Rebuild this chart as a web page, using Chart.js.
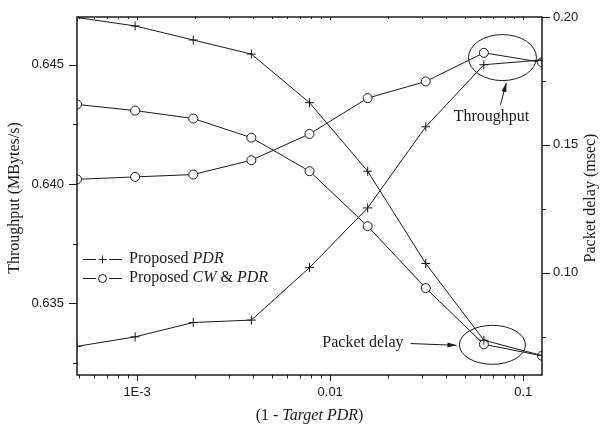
<!DOCTYPE html>
<html>
<head>
<meta charset="utf-8">
<script src="https://cdn.jsdelivr.net/npm/chart.js@4.4.0/dist/chart.umd.min.js"></script>
<style>
  html, body { margin: 0; padding: 0; background: #fff; }
</style>
</head>
<body>
<canvas id="myChart" width="601" height="427"></canvas>
<script>
// x values: 1 - target PDR
const targetLoss = [0.00048828125, 0.0009765625, 0.001953125, 0.00390625, 0.0078125, 0.015625, 0.03125, 0.0625, 0.125];

// throughput (MBytes/s), left axis
const throughputPdr   = [0.6332, 0.6336, 0.6342, 0.6343, 0.6365, 0.6390, 0.6424, 0.6450, 0.6452];
const throughputCwPdr = [0.6402, 0.6403, 0.6404, 0.6410, 0.6421, 0.6436, 0.6443, 0.6455, 0.6451];

// packet delay (msec), right axis
const delayPdr   = [0.1998, 0.1965, 0.1910, 0.1855, 0.1665, 0.1397, 0.1036, 0.0736, 0.0676];
const delayCwPdr = [0.1658, 0.1634, 0.1603, 0.1528, 0.1397, 0.1182, 0.0940, 0.0720, 0.0675];

// ticks
const xMajorTicks  = [0.001, 0.01, 0.1];
const xMajorLabels = ['1E-3', '0.01', '0.1'];
const leftTicks  = [0.6325, 0.635, 0.6375, 0.640, 0.6425, 0.645];
const leftLabels = ['', '0.635', '', '0.640', '', '0.645'];
const rightTicks  = [0.075, 0.10, 0.125, 0.15, 0.175, 0.20];
const rightLabels = ['', '0.10', '', '0.15', '', '0.20'];

const legendNames = [
  [['Proposed ', false], ['PDR', true]],
  [['Proposed ', false], ['CW', true], [' & ', false], ['PDR', true]]
];

// all log ticks from 5E-4 to 0.1
let xTicks = [];
for (let d = 0.0001; d < 0.1; d *= 10) {
  for (let m = 1; m <= 9; m++) {
    let v = +(m * d).toPrecision(3);
    if (v >= 0.0005) xTicks.push(v);
  }
}
xTicks.push(0.1);

const INK = '#1a1a1a';
const SERIF = '"Liberation Serif", "Times New Roman", serif';
const SANS = '"Liberation Sans", Arial, sans-serif';

function findLabel(list, labels, v) {
  for (let i = 0; i < list.length; i++) {
    if (Math.abs(list[i] - v) < 1e-9) return labels[i];
  }
  return '';
}

function makeSet(label, data, axis, style) {
  return {
    label: label,
    data: targetLoss.map((x, i) => ({ x: x, y: data[i] })),
    yAxisID: axis,
    borderColor: INK,
    borderWidth: 1,
    backgroundColor: '#fff',
    pointStyle: style,
    pointRadius: 4.5,
    pointBorderWidth: 1,
    pointBorderColor: INK,
    pointBackgroundColor: '#fff',
    tension: 0
  };
}

// no label overflow padding, so the plot box sits where we want it
function noPad(s) {
  s.paddingTop = 0; s.paddingBottom = 0;
  s.paddingLeft = 0; s.paddingRight = 0;
}

// rich text (mixed italic) helper
function drawRich(ctx, parts, x, y, align) {
  let widths = parts.map(p => {
    ctx.font = (p[1] ? 'italic ' : '') + '16px ' + SERIF;
    return ctx.measureText(p[0]).width;
  });
  let total = widths.reduce((a, b) => a + b, 0);
  let cx = align == 'center' ? x - total / 2 : (align == 'right' ? x - total : x);
  ctx.textAlign = 'left';
  ctx.textBaseline = 'middle';
  parts.forEach((p, i) => {
    ctx.font = (p[1] ? 'italic ' : '') + '16px ' + SERIF;
    ctx.fillText(p[0], cx, y);
    cx += widths[i];
  });
}

function arrow(ctx, x1, y1, x2, y2) {
  ctx.beginPath();
  ctx.moveTo(x1, y1);
  ctx.lineTo(x2, y2);
  ctx.stroke();
  let a = Math.atan2(y2 - y1, x2 - x1);
  ctx.beginPath();
  ctx.moveTo(x2, y2);
  ctx.lineTo(x2 - 9 * Math.cos(a) + 2.5 * Math.sin(a), y2 - 9 * Math.sin(a) - 2.5 * Math.cos(a));
  ctx.lineTo(x2 - 9 * Math.cos(a) - 2.5 * Math.sin(a), y2 - 9 * Math.sin(a) + 2.5 * Math.cos(a));
  ctx.closePath();
  ctx.fill();
}

const frame = {
  id: 'frame',
  afterDraw(chart) {
    const ctx = chart.ctx;
    const a = chart.chartArea;
    const x = chart.scales.x, yL = chart.scales.yL, yR = chart.scales.yR;
    ctx.save();
    ctx.strokeStyle = INK;
    ctx.fillStyle = INK;

    // box
    ctx.lineWidth = 1.5;
    ctx.strokeRect(a.left, a.top, a.right - a.left, a.bottom - a.top);

    // tick marks
    ctx.lineWidth = 1;
    ctx.beginPath();
    x.ticks.forEach(t => {
      let px = Math.round(x.getPixelForValue(t.value)) + 0.5;
      let major = findLabel(xMajorTicks, xMajorLabels, t.value) != '';
      ctx.moveTo(px, a.bottom);
      ctx.lineTo(px, a.bottom + (major ? 6 : 3.5));
      // tiny inward marks on the top border
      ctx.moveTo(px, a.top);
      ctx.lineTo(px, a.top + (major ? 3 : 2));
    });
    yL.ticks.forEach(t => {
      let py = Math.round(yL.getPixelForValue(t.value)) + 0.5;
      let major = findLabel(leftTicks, leftLabels, t.value) != '';
      ctx.moveTo(a.left, py);
      ctx.lineTo(a.left - (major ? 8 : 4), py);
    });
    yR.ticks.forEach(t => {
      let py = Math.round(yR.getPixelForValue(t.value)) + 0.5;
      let major = findLabel(rightTicks, rightLabels, t.value) != '';
      ctx.moveTo(a.right, py);
      ctx.lineTo(a.right + (major ? 8 : 4), py);
    });
    ctx.stroke();

    // axis titles
    ctx.save();
    ctx.translate(15, (a.top + a.bottom) / 2 + 2);
    ctx.rotate(-Math.PI / 2);
    drawRich(ctx, [['Throughput (MBytes/s)', false]], 0, 0, 'center');
    ctx.restore();

    ctx.save();
    ctx.translate(591, (a.top + a.bottom) / 2 + 2);
    ctx.rotate(-Math.PI / 2);
    drawRich(ctx, [['Packet delay (msec)', false]], 0, 0, 'center');
    ctx.restore();

    drawRich(ctx, [['(1 - ', false], ['Target PDR', true], [')', false]], (a.left + a.right) / 2, 416, 'center');

    // legend
    const styles = ['cross', 'circle'];
    [259, 278].forEach((ly, i) => {
      let cy = ly + 0.5;
      ctx.beginPath();
      ctx.moveTo(83, cy);
      ctx.lineTo(96, cy);
      ctx.moveTo(109, cy);
      ctx.lineTo(122, cy);
      ctx.stroke();
      ctx.beginPath();
      if (styles[i] == 'circle') {
        ctx.arc(102.5, cy, 4, 0, Math.PI * 2);
      } else {
        ctx.moveTo(102.5, cy - 4);
        ctx.lineTo(102.5, cy + 4);
        ctx.moveTo(98.5, cy);
        ctx.lineTo(106.5, cy);
      }
      ctx.stroke();
      drawRich(ctx, legendNames[i], 129, ly, 'left');
    });

    // annotations
    ctx.lineWidth = 1;
    let ex = x.getPixelForValue(0.078), ey = yL.getPixelForValue(0.6453);
    ctx.beginPath();
    ctx.ellipse(ex, ey, 34, 23, 0, 0, Math.PI * 2);
    ctx.stroke();
    drawRich(ctx, [['Throughput', false]], x.getPixelForValue(0.0684), yL.getPixelForValue(0.6428), 'center');
    arrow(ctx, x.getPixelForValue(0.0761), yL.getPixelForValue(0.64332),
               x.getPixelForValue(0.0817), yL.getPixelForValue(0.64424));

    ex = x.getPixelForValue(0.0692); ey = yR.getPixelForValue(0.0718);
    ctx.beginPath();
    ctx.ellipse(ex, ey, 33, 19.5, 0, 0, Math.PI * 2);
    ctx.stroke();
    drawRich(ctx, [['Packet delay', false]], x.getPixelForValue(0.024), yR.getPixelForValue(0.0726), 'right');
    arrow(ctx, x.getPixelForValue(0.0261), yR.getPixelForValue(0.0723),
               x.getPixelForValue(0.0451), yR.getPixelForValue(0.0716));

    ctx.restore();
  }
};

const ctx = document.getElementById('myChart').getContext('2d');
const myChart = new Chart(ctx, {
  type: 'line',
  data: {
    datasets: [
      makeSet('Throughput - Proposed PDR', throughputPdr, 'yL', 'cross'),
      makeSet('Throughput - Proposed CW & PDR', throughputCwPdr, 'yL', 'circle'),
      makeSet('Packet delay - Proposed PDR', delayPdr, 'yR', 'cross'),
      makeSet('Packet delay - Proposed CW & PDR', delayCwPdr, 'yR', 'circle')
    ]
  },
  options: {
    responsive: false,
    animation: false,
    layout: { padding: { top: 17, left: 0, right: 0, bottom: 0 } },
    plugins: { legend: { display: false }, tooltip: { enabled: false } },
    scales: {
      x: {
        type: 'logarithmic',
        position: 'bottom',
        min: 0.00048828125,
        max: 0.125,
        grid: { display: false, drawTicks: false },
        border: { display: false },
        afterBuildTicks: s => { s.ticks = xTicks.map(v => ({ value: v })); },
        afterFit: s => { s.height = 52; noPad(s); },
        ticks: {
          autoSkip: false, maxRotation: 0, minRotation: 0, padding: 10,
          color: INK, font: { family: SANS, size: 13 },
          callback: v => findLabel(xMajorTicks, xMajorLabels, v)
        }
      },
      yL: {
        type: 'linear',
        position: 'left',
        min: 0.632,
        max: 0.647,
        grid: { display: false, drawTicks: false },
        border: { display: false },
        afterBuildTicks: s => { s.ticks = leftTicks.map(v => ({ value: v })); },
        afterFit: s => { s.width = 77; noPad(s); },
        ticks: {
          autoSkip: false, padding: 13,
          color: INK, font: { family: SANS, size: 13 },
          callback: v => findLabel(leftTicks, leftLabels, v)
        }
      },
      yR: {
        type: 'linear',
        position: 'right',
        min: 0.06,
        max: 0.20,
        grid: { display: false, drawTicks: false },
        border: { display: false },
        afterBuildTicks: s => { s.ticks = rightTicks.map(v => ({ value: v })); },
        afterFit: s => { s.width = 59; noPad(s); },
        ticks: {
          autoSkip: false, padding: 11,
          color: INK, font: { family: SANS, size: 13 },
          callback: v => findLabel(rightTicks, rightLabels, v)
        }
      }
    }
  },
  plugins: [frame]
});
</script>
</body>
</html>
